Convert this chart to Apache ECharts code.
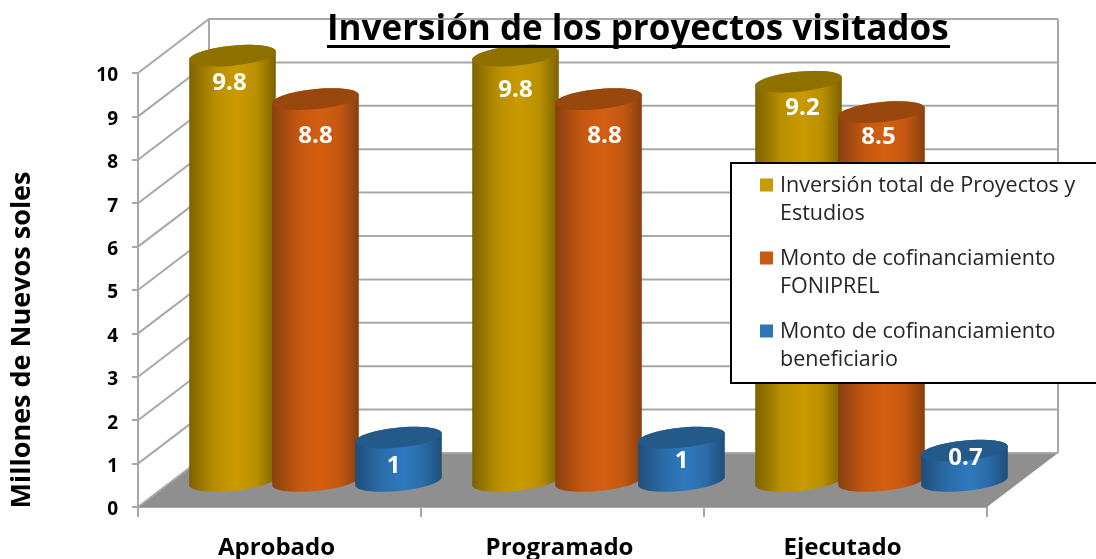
<!DOCTYPE html>
<html>
<head>
<meta charset="utf-8">
<style>
  html, body { margin: 0; padding: 0; background: #fff; overflow: hidden; }
  #echarts { width: 1096px; height: 559px; }
</style>
<script src="https://cdn.jsdelivr.net/npm/echarts@6/dist/echarts.min.js"></script>
</head>
<body>
<div id="echarts"></div>
<script>
const categories = ['Aprobado', 'Programado', 'Ejecutado'];
const yTicks = [0, 1, 2, 3, 4, 5, 6, 7, 8, 9, 10];
const inversionTotal = [9.8, 9.8, 9.2];
const montoFoniprel = [8.8, 8.8, 8.5];
const montoBeneficiario = [1, 1, 0.7];

const nameInversion = 'Inversión total de Proyectos y\nEstudios';
const nameFoniprel = 'Monto de cofinanciamiento\nFONIPREL';
const nameBeneficiario = 'Monto de cofinanciamiento\nbeneficiario';

const fontName = '"Open Sans", Lato, sans-serif';
const gridColor = '#a8a8a8';

// profundidad de la caja 3D
const depthX = 71;
const depthY = -54;
// centro de los cilindros dentro de la caja
const baseX = 36;
const baseY = -26;
const radiusX = 43.5;
const radiusY = 10;
const tilt = -0.1;

function ellipseArc(cx, cy, from, to) {
    let pts = [];
    for (let i = 0; i <= 40; i++) {
        let t = from + (to - from) * i / 40;
        pts.push([
            cx + radiusX * Math.cos(t) * Math.cos(tilt) - radiusY * Math.sin(t) * Math.sin(tilt),
            cy + radiusX * Math.cos(t) * Math.sin(tilt) + radiusY * Math.sin(t) * Math.cos(tilt)
        ]);
    }
    return pts;
}

function cylinder(shiftX, colors, nudges) {
    return function (params, api) {
        let cat = api.value(0);
        let top = api.coord([cat, api.value(1)]);
        let bottom = api.coord([cat, 0]);
        let cx = top[0] + baseX + shiftX;
        let topY = top[1] + baseY;
        let baseLine = bottom[1] + baseY;
        let t0 = Math.atan2(-radiusY * Math.sin(tilt), radiusX * Math.cos(tilt));
        let body = ellipseArc(cx, baseLine, t0, t0 + Math.PI)
            .concat(ellipseArc(cx, topY, t0 + Math.PI, t0 + 2 * Math.PI));
        let nudge = nudges[cat];
        return {
            type: 'group',
            children: [{
                type: 'polygon',
                shape: { points: body },
                style: {
                    fill: new echarts.graphic.LinearGradient(0, 0, 1, 0, [
                        { offset: 0, color: colors[0] },
                        { offset: 0.3, color: colors[3] },
                        { offset: 0.55, color: colors[1] },
                        { offset: 0.78, color: colors[3] },
                        { offset: 1, color: colors[0] }
                    ])
                }
            }, {
                type: 'polygon',
                shape: { points: ellipseArc(cx, topY, 0, 2 * Math.PI) },
                style: { fill: colors[2] }
            }, {
                type: 'text',
                style: {
                    text: String(api.value(1)),
                    x: cx + nudge[0],
                    y: topY + nudge[1],
                    align: 'center',
                    verticalAlign: 'middle',
                    fill: '#fff',
                    font: 'bold 24px ' + fontName
                }
            }]
        };
    };
}

function toPairs(values) {
    return values.map(function (v, i) { return [i, v]; });
}

var myChart = echarts.init(document.getElementById('echarts'));
var option = {
    animation: false,
    backgroundColor: '#fff',
    title: {
        text: 'Inversión de los proyectos visitados',
        left: 327,
        top: 13,
        padding: 0,
        textStyle: { fontFamily: fontName, fontSize: 35, fontWeight: 'bold', color: '#000' }
    },
    graphic: [{
        type: 'rect',
        left: 327,
        top: 45,
        shape: { width: 623, height: 3 },
        style: { fill: '#000' },
        z: 10
    }],
    legend: {
        orient: 'vertical',
        left: 731,
        top: 163,
        padding: [9, 60, 9, 29],
        backgroundColor: '#fff',
        borderColor: '#000',
        borderWidth: 2,
        itemWidth: 13,
        itemHeight: 43,
        itemGap: 17,
        selectedMode: false,
        data: [nameInversion, nameFoniprel, nameBeneficiario].map(function (n) {
            return { name: n, icon: 'path://M0 0H13V13H0ZM0 43H0V43Z' };
        }),
        textStyle: { fontFamily: fontName, fontSize: 21.5, color: '#262626', lineHeight: 28, padding: [0, 0, 0, 2] }
    },
    grid: { left: 138, right: 109, top: 73, bottom: 52, outerBoundsMode: 'none' },
    xAxis: [{
        type: 'category',
        data: categories,
        axisLine: { lineStyle: { color: gridColor, width: 2 } },
        axisTick: { show: true, length: 10, lineStyle: { color: gridColor, width: 2 } },
        axisLabel: { fontFamily: fontName, fontSize: 24, fontWeight: 'bold', color: '#000', margin: 29, padding: [0, 6, 0, 0] }
    }],
    yAxis: [{
        type: 'value',
        min: 0,
        max: 10,
        interval: 1,
        name: 'Millones de Nuevos soles',
        nameLocation: 'middle',
        nameRotate: 90,
        nameGap: 102,
        nameTextStyle: { fontFamily: fontName, fontSize: 27, fontWeight: 'bold', color: '#000', padding: [0, 100, 0, 0] },
        axisLine: { show: true, lineStyle: { color: gridColor, width: 2 } },
        axisTick: { show: true, length: 6, lineStyle: { color: gridColor, width: 2 } },
        splitLine: { show: false },
        axisLabel: {
            color: '#000',
            margin: 20,
            formatter: '{n|{value}}',
            rich: { n: { fontFamily: fontName, fontSize: 19, fontWeight: 'bold', color: '#000', padding: [6, 0, 0, 0] } }
        }
    }],
    series: [{
        // piso y paredes
        type: 'custom',
        data: yTicks.map(function (v) { return [0, v]; }),
        encode: { x: 0, y: 1 },
        silent: true,
        renderItem: function (params, api) {
            let rect = params.coordSys;
            let left = rect.x;
            let right = rect.x + rect.width;
            let y = api.coord([0, api.value(1)])[1];
            let lineStyle = { stroke: gridColor, lineWidth: 2, fill: null };
            let children = [];
            if (api.value(1) === 0) {
                children.push({
                    type: 'polygon',
                    shape: { points: [[left, y], [left + depthX, y + depthY], [right + depthX, y + depthY], [right, y]] },
                    style: { fill: '#8f8f8f' }
                });
                children.push({
                    type: 'line',
                    shape: { x1: left + depthX, y1: y + depthY, x2: left + depthX, y2: rect.y + depthY },
                    style: lineStyle
                });
                children.push({
                    type: 'line',
                    shape: { x1: right + depthX, y1: y + depthY, x2: right + depthX, y2: rect.y + depthY },
                    style: lineStyle
                });
            }
            children.push({
                type: 'polyline',
                shape: { points: [[left, y], [left + depthX, y + depthY], [right + depthX, y + depthY]] },
                style: lineStyle
            });
            return { type: 'group', children: children };
        }
    }, {
        name: nameInversion,
        type: 'custom',
        data: toPairs(inversionTotal),
        encode: { x: 0, y: 1 },
        itemStyle: { color: '#c79a00' },
        renderItem: cylinder(-83, ['#7d6200', '#c99b00', '#8f7100', '#b98f00'], [[-3, 27], [0, 34], [4, 26]])
    }, {
        name: nameFoniprel,
        type: 'custom',
        data: toPairs(montoFoniprel),
        encode: { x: 0, y: 1 },
        itemStyle: { color: '#c85a11' },
        renderItem: cylinder(0, ['#87400f', '#d35f11', '#98470d', '#c45711'], [[0, 37], [6, 37], [-3, 25]])
    }, {
        name: nameBeneficiario,
        type: 'custom',
        data: toPairs(montoBeneficiario),
        encode: { x: 0, y: 1 },
        itemStyle: { color: '#2e75b6' },
        renderItem: cylinder(83, ['#1f4e79', '#2e79bd', '#245a8a', '#2a6ca9'], [[-5, 29], [0, 24], [1, 8]])
    }]
};
myChart.setOption(option);
</script>
</body>
</html>
